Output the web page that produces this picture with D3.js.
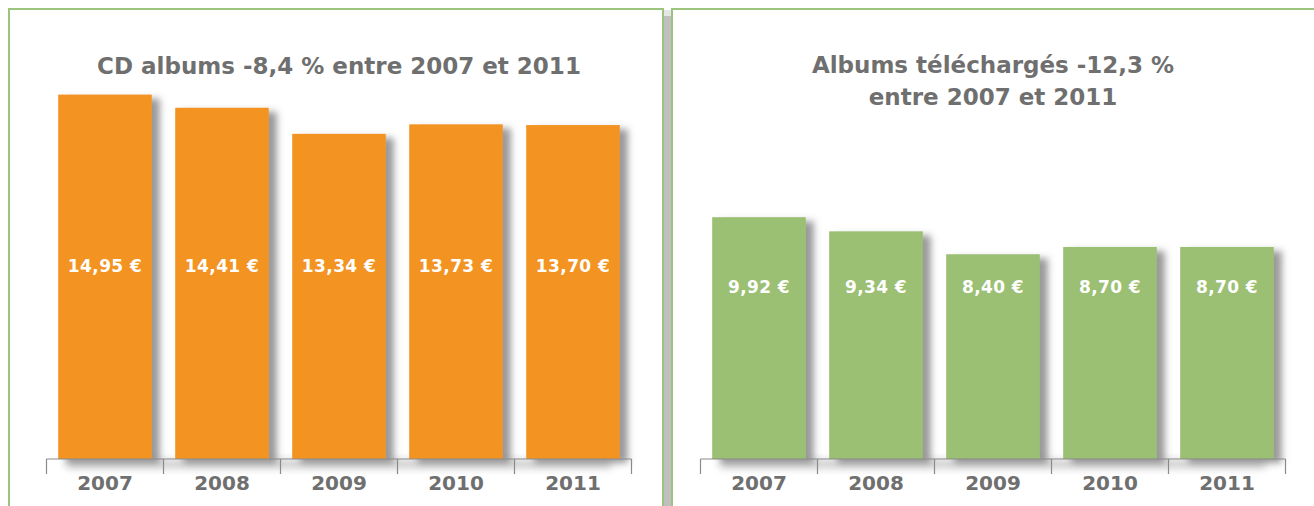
<!DOCTYPE html>
<html>
<head>
<meta charset="utf-8">
<script src="https://cdn.jsdelivr.net/npm/d3@7"></script>
<style>
  body { margin: 0; background: #fff; }
  svg { display: block; }
</style>
</head>
<body>
<div class="chart-container"></div>
<script>
// data
const years = ["2007", "2008", "2009", "2010", "2011"];
const cdPrices = [14.95, 14.41, 13.34, 13.73, 13.70];
const dlPrices = [9.92, 9.34, 8.40, 8.70, 8.70];
const cdTitle = ["CD albums -8,4 % entre 2007 et 2011"];
const dlTitle = ["Albums téléchargés -12,3 %", "entre 2007 et 2011"];

const W = 1314, H = 506;
const fmt = (v) => d3.format(".2f")(v).replace(".", ",") + " €";
const FONT = "DejaVu Sans, Verdana, sans-serif";

const svg = d3.select(".chart-container")
  .append("svg")
  .attr("width", W)
  .attr("height", H);

const defs = svg.append("defs");
// bar shadow
const f = defs.append("filter").attr("id", "barShadow")
  .attr("x", "-20%").attr("y", "-20%").attr("width", "160%").attr("height", "160%");
f.append("feDropShadow").attr("dx", 8).attr("dy", 4).attr("stdDeviation", 3.5)
  .attr("flood-color", "#555").attr("flood-opacity", 0.6);
// axis shadow
const af = defs.append("filter").attr("id", "axisShadow")
  .attr("x", "-10%").attr("y", "-200%").attr("width", "120%").attr("height", "500%");
af.append("feGaussianBlur").attr("stdDeviation", 4);

const panels = [
  { x0: 9, x1: 663, axisX: 46.5, values: cdPrices, title: cdTitle, color: "#F39424", labelAt: 7.9, titleY: 74 },
  { x0: 672, x1: 1340, axisX: 700.5, values: dlPrices, title: dlTitle, color: "#9BBF73", labelAt: 7.05, titleY: 73 },
];

const axisW = 585;
const y = d3.scaleLinear().domain([0, 16]).range([459, 69]);

panels.forEach((p) => {
  const g = svg.append("g");

  g.append("rect")
    .attr("x", p.x0).attr("y", 9)
    .attr("width", p.x1 - p.x0).attr("height", 560)
    .attr("fill", "#fff")
    .attr("stroke", "#9CC47C")
    .attr("stroke-width", 2);

  const x = d3.scaleBand()
    .domain(years)
    .range([p.axisX, p.axisX + axisW])
    .paddingInner(0.2)
    .paddingOuter(0.1);

  const cx = p.axisX + axisW / 2;

  // title
  p.title.forEach((t, i) => {
    g.append("text")
      .attr("x", cx).attr("y", p.titleY + i * 32)
      .attr("text-anchor", "middle")
      .attr("font-family", FONT)
      .attr("font-weight", "bold")
      .attr("font-size", 23)
      .attr("fill", "#6f6f6f")
      .text(t);
  });

  // axis shadow
  g.append("rect")
    .attr("x", p.axisX + 20).attr("y", y(0) + 2)
    .attr("width", axisW - 40).attr("height", 6)
    .attr("fill", "#888")
    .attr("opacity", 0.6)
    .attr("filter", "url(#axisShadow)");

  // bars
  g.selectAll(".bar")
    .data(p.values)
    .enter()
    .append("rect")
    .attr("class", "bar")
    .attr("x", (d, i) => x(years[i]))
    .attr("y", (d) => y(d))
    .attr("width", x.bandwidth())
    .attr("height", (d) => y(0) - y(d))
    .attr("fill", p.color)
    .attr("filter", "url(#barShadow)");

  // axis line + boundary ticks
  const ax = g.append("g")
    .attr("transform", "translate(0," + y(0) + ")");
  ax.append("line")
    .attr("x1", p.axisX).attr("x2", p.axisX + axisW)
    .attr("stroke", "#8a8a8a").attr("stroke-width", 1.2);
  ax.selectAll(".tick")
    .data(d3.range(years.length + 1))
    .enter()
    .append("line")
    .attr("class", "tick")
    .attr("x1", (i) => p.axisX + i * (axisW / years.length))
    .attr("x2", (i) => p.axisX + i * (axisW / years.length))
    .attr("y1", 0).attr("y2", 15)
    .attr("stroke", "#8a8a8a").attr("stroke-width", 1.2);

  // year labels
  g.selectAll(".year")
    .data(years)
    .enter()
    .append("text")
    .attr("class", "year")
    .attr("x", (d) => x(d) + x.bandwidth() / 2)
    .attr("y", y(0) + 31)
    .attr("text-anchor", "middle")
    .attr("font-family", FONT)
    .attr("font-weight", "bold")
    .attr("font-size", 20)
    .attr("fill", "#6f6f6f")
    .text((d) => d);

  // value labels
  g.selectAll(".val")
    .data(p.values)
    .enter()
    .append("text")
    .attr("class", "val")
    .attr("x", (d, i) => x(years[i]) + x.bandwidth() / 2)
    .attr("y", y(p.labelAt) + 6)
    .attr("text-anchor", "middle")
    .attr("font-family", FONT)
    .attr("font-weight", "bold")
    .attr("font-size", 17)
    .attr("letter-spacing", 0.4)
    .attr("fill", "#fff")
    .text((d) => fmt(d));
});

// shaded gap between the two panels (drawn last, between the borders)
svg.append("rect")
  .attr("x", 664).attr("y", 14)
  .attr("width", 7).attr("height", H)
  .attr("fill", "#bfbfbf");
svg.append("rect")
  .attr("x", 664).attr("y", 10)
  .attr("width", 7).attr("height", 6)
  .attr("fill", "#e6e6e6");
</script>
</body>
</html>
